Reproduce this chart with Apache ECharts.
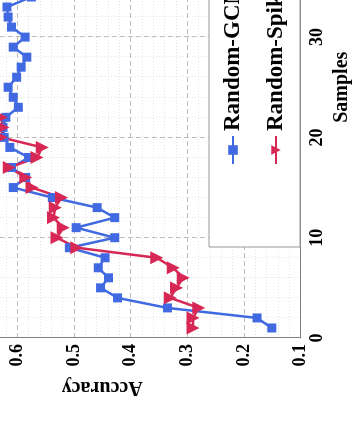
<!DOCTYPE html>
<html>
<head>
<meta charset="utf-8">
<script src="https://cdn.jsdelivr.net/npm/echarts@6/dist/echarts.min.js"></script>
<style>
  html, body { margin: 0; padding: 0; background: #fff; }
  body { width: 354px; height: 423px; overflow: hidden; position: relative; }
  /* the figure is drawn upright, then turned a quarter turn counter-clockwise */
  #frame {
    position: absolute; left: 0; top: 0; width: 423px; height: 354px;
    transform-origin: 0 0; transform: translateY(423px) rotate(-90deg);
  }
  #chart { position: absolute; left: 0; top: -110px; width: 640px; height: 500px; }
</style>
</head>
<body>
<div id="frame"><div id="chart"></div></div>
<script>
const samples = [1, 2, 3, 4, 5, 6, 7, 8, 9, 10, 11, 12, 13, 14, 15, 16, 17, 18, 19, 20,
  21, 22, 23, 24, 25, 26, 27, 28, 29, 30, 31, 32, 33, 34, 35, 36];
const randomGCN = [0.151, 0.177, 0.335, 0.423, 0.453, 0.439, 0.457, 0.445, 0.508, 0.428,
  0.496, 0.428, 0.459, 0.538, 0.607, 0.585, 0.61, 0.58, 0.613, 0.623,
  0.625, 0.62, 0.598, 0.607, 0.616, 0.601, 0.593, 0.583, 0.607, 0.586,
  0.61, 0.616, 0.618, 0.575, 0.6, 0.605];
const randomSpike = [0.29, 0.29, 0.28, 0.33, 0.319, 0.307, 0.325, 0.354, 0.495, 0.53,
  0.519, 0.536, 0.533, 0.522, 0.574, 0.585, 0.614, 0.565, 0.556, 0.628,
  0.625, 0.628, 0.66, 0.67, 0.675, 0.68, 0.672, 0.685, 0.69, 0.688,
  0.695, 0.7, 0.698, 0.705, 0.71, 0.708];
const seriesNames = ["Random-GCN", "Random-SpikeGCN"];

const font = "Liberation Serif";
const chart = echarts.init(document.getElementById("chart"));

const pairs = (ys) => samples.map((s, i) => [s, ys[i]]);

const option = {
  backgroundColor: "#fff",
  animation: false,
  grid: { left: 85, right: 53.5, top: 13.8, bottom: 89.3, outerBoundsMode: "none" },
  xAxis: {
    type: "value",
    min: 0,
    max: 50,
    interval: 10,
    name: "Samples",
    nameLocation: "middle",
    nameGap: 29,
    nameTextStyle: { fontFamily: font, fontWeight: "bold", fontSize: 20, color: "#000" },
    axisLine: { lineStyle: { color: "#808080", width: 1 } },
    axisTick: { show: false },
    axisLabel: { margin: 8, fontFamily: font, fontWeight: "bold", fontSize: 18, color: "#000" },
    splitLine: { lineStyle: { color: "#bdbdbd", type: [5, 3], width: 1 } },
    minorTick: { show: false, splitNumber: 5 },
    minorSplitLine: { show: true, lineStyle: { color: "#e4e4e4", type: [1, 2], width: 1 } },
  },
  yAxis: {
    type: "value",
    min: 0.1,
    max: 0.8,
    interval: 0.1,
    name: "Accuracy",
    nameLocation: "middle",
    nameGap: 33,
    nameTextStyle: { fontFamily: font, fontWeight: "bold", fontSize: 20, color: "#000" },
    axisLine: { show: true, lineStyle: { color: "#808080", width: 1 } },
    axisTick: { show: false },
    axisLabel: {
      margin: 6, fontFamily: font, fontWeight: "bold", fontSize: 18, color: "#000",
      formatter: (v) => v.toFixed(1),
    },
    splitLine: { lineStyle: { color: "#bdbdbd", type: [5, 3], width: 1 } },
    minorTick: { show: false, splitNumber: 5 },
    minorSplitLine: { show: true, lineStyle: { color: "#e4e4e4", type: [1, 2], width: 1 } },
  },
  legend: {
    orient: "vertical",
    left: 176,
    top: 319,
    padding: [12, 30, 12, 82],
    itemGap: 19,
    itemWidth: 28,
    itemHeight: 12,
    borderColor: "#999",
    borderWidth: 1,
    backgroundColor: "#fff",
    textStyle: { fontFamily: font, fontWeight: "bold", fontSize: 23, color: "#000", lineHeight: 24 },
    data: seriesNames,
  },
  series: [
    {
      name: seriesNames[0],
      type: "line",
      data: pairs(randomGCN),
      color: "#4169E1",
      symbol: "rect",
      symbolSize: 9,
      lineStyle: { width: 2.5 },
    },
    {
      name: seriesNames[1],
      type: "line",
      data: pairs(randomSpike),
      color: "#D72855",
      symbol: "triangle",
      symbolRotate: 180,
      symbolSize: 13,
      lineStyle: { width: 2.5 },
    },
  ],
};

chart.setOption(option);
</script>
</body>
</html>
